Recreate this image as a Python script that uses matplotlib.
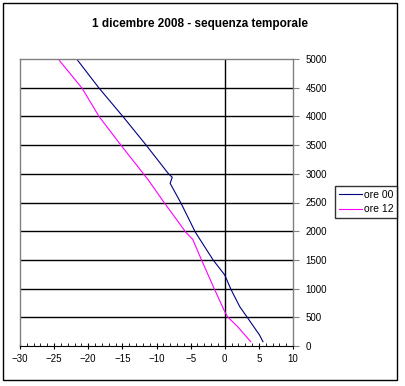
import numpy as np
import matplotlib.pyplot as plt
from matplotlib.patches import Rectangle
from matplotlib.ticker import MultipleLocator

plt.rcParams['font.family'] = ['Liberation Sans', 'DejaVu Sans']

# temperature (C) vs height (m)
quota_00 = [75, 190, 482, 685, 988, 1237, 1498, 1981, 2486, 2834, 2939, 3009, 3497, 3995, 4490, 5000]
temp_00 = [5.6, 5.1, 3.4, 2.2, 0.9, 0.0, -1.7, -4.3, -6.4, -8.0, -7.7, -8.3, -11.5, -14.9, -18.4, -21.7]

quota_12 = [75, 336, 510, 598, 988, 1498, 1859, 1981, 2486, 2892, 3497, 3995, 4490, 5000]
temp_12 = [3.8, 1.9, 0.4, 0.0, -1.5, -3.4, -4.7, -5.7, -8.8, -11.2, -15.2, -18.4, -20.9, -24.4]

labels = ['ore 00', 'ore 12']
colors = ['#000080', '#ff00ff']

fig = plt.figure(figsize=(4.05, 3.86), dpi=100)
ax = fig.add_axes([20 / 405, 40 / 386, 273 / 405, 287 / 386])

ax.plot(temp_00, quota_00, color=colors[0], lw=0.8, label=labels[0])
ax.plot(temp_12, quota_12, color=colors[1], lw=0.8, label=labels[1])

ax.set_xlim(-30, 10)
ax.set_ylim(0, 5000)
ax.xaxis.set_major_locator(MultipleLocator(5))
ax.xaxis.set_minor_locator(MultipleLocator(1))
ax.yaxis.set_major_locator(MultipleLocator(500))

# horizontal gridlines and the axis line at x=0
for q in np.arange(500, 5000, 500):
    ax.axhline(q, color='black', lw=1, zorder=0.5)
ax.axvline(0, color='black', lw=1, zorder=0.5)

for s in ['left', 'top', 'right']:
    ax.spines[s].set_color('#808080')
    ax.spines[s].set_linewidth(1)
ax.spines['bottom'].set_color('black')

ax.yaxis.tick_right()
ax.tick_params(axis='y', which='both', length=4, color='#808080', labelsize=7, pad=5, direction='out')
ax.tick_params(axis='x', which='major', length=4, direction='inout', labelsize=7, pad=4)
ax.tick_params(axis='x', which='minor', length=2, direction='in')
for lab in ax.get_yticklabels():
    lab.set_horizontalalignment('left')

fig.text(200 / 405, 1 - 24 / 386, '1 dicembre 2008 - sequenza temporale',
         ha='center', va='center', fontsize=8.5, fontweight='bold')

fig.legend(loc='center left', bbox_to_anchor=(335 / 405, 1 - 202 / 386),
           fontsize=7.5, frameon=True, fancybox=False, edgecolor='black',
           handlelength=2.2, borderpad=0.35, labelspacing=0.45, handletextpad=0.2,
           borderaxespad=0)

fig.patches.append(Rectangle((3 / 405, 1 - 380 / 386), 394 / 405, 377 / 386,
                             transform=fig.transFigure, fill=False,
                             edgecolor='black', lw=1))

fig.savefig('out.png', dpi=100)
